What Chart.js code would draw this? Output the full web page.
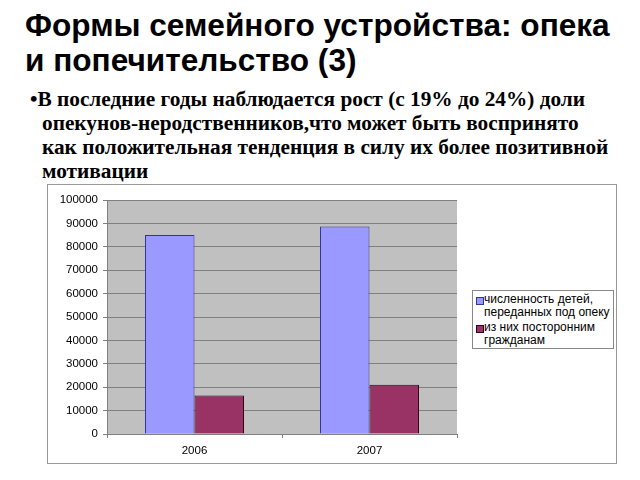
<!DOCTYPE html>
<html>
<head>
<meta charset="utf-8">
<script src="https://cdn.jsdelivr.net/npm/chart.js@4"></script>
<style>
  html, body { margin:0; padding:0; background:#fff; width:640px; height:480px; overflow:hidden; }
  .title { position:absolute; left:25px; font-family:"Liberation Sans", Arial, sans-serif; font-weight:bold; font-size:31.6px; color:#000; white-space:nowrap; line-height:1; }
  .bl { position:absolute; font-family:"Liberation Serif", "Times New Roman", serif; font-weight:bold; font-size:21.3px; color:#000; white-space:nowrap; line-height:1; }
  #box { position:absolute; left:47px; top:184px; width:568px; height:278px; border:1px solid #999; background:#fff; }
  #cw { position:absolute; left:0; top:0; width:568px; height:278px; }
  #legend { position:absolute; left:424px; top:105px; width:140px; height:57px; border:1px solid #888; background:#fff; font-family:"Liberation Sans", Arial, sans-serif; font-size:12px; color:#000; }
  .li { position:absolute; left:11px; line-height:13px; white-space:nowrap; }
  .sw { position:absolute; left:3px; width:6px; height:6px; }
</style>
</head>
<body>
<div class="title" style="top:10px">Формы семейного устройства: опека</div>
<div class="title" style="top:45px">и попечительство (3)</div>
<div class="bl" style="left:30px; top:89px">•В последние годы наблюдается рост (с 19% до 24%) доли</div>
<div class="bl" style="left:42px; top:113px">опекунов-неродственников,что может быть воспринято</div>
<div class="bl" style="left:42px; top:137px">как положительная тенденция в силу их более позитивной</div>
<div class="bl" style="left:42px; top:161px">мотивации</div>
<div id="box">
  <div id="cw"><canvas id="c" width="568" height="278"></canvas></div>
  <div id="legend"></div>
</div>
<script>
const categories = ["2006", "2007"];
const seriesNames = [["численность детей,", "переданных под опеку"], ["из них посторонним", "гражданам"]];
const childrenTotal = [85000, 88700];
const toStrangers = [16400, 21000];
const yTicks = [0, 10000, 20000, 30000, 40000, 50000, 60000, 70000, 80000, 90000, 100000];

const fills = ["#9999FF", "#993366"];
const borders = ["#333399", "#330022"];

const bgPlugin = {
  id: "plotBg",
  beforeDraw(chart) {
    const a = chart.chartArea, ctx = chart.ctx;
    ctx.save();
    ctx.fillStyle = "#C0C0C0";
    ctx.fillRect(a.left, a.top, a.right - a.left, a.bottom - a.top);
    ctx.restore();
  }
};

new Chart(document.getElementById("c"), {
  type: "bar",
  data: {
    labels: categories,
    datasets: [
      { label: seriesNames[0].join(" "), data: childrenTotal, backgroundColor: fills[0], borderColor: borders[0], borderWidth: 1, barPercentage: 1, categoryPercentage: 0.566 },
      { label: seriesNames[1].join(" "), data: toStrangers, backgroundColor: fills[1], borderColor: borders[1], borderWidth: 1, barPercentage: 1, categoryPercentage: 0.566 }
    ]
  },
  options: {
    responsive: false,
    animation: false,
    layout: { padding: { left: 0, right: 159, top: 15, bottom: 0 } },
    plugins: { legend: { display: false }, tooltip: { enabled: false } },
    scales: {
      x: {
        afterFit(s) { s.height = 29; },
        grid: { offset: true, drawOnChartArea: false, drawTicks: true, tickLength: 4, color: "#808080" },
        border: { display: true, color: "#808080" },
        ticks: { padding: 6, color: "#000", font: { family: "Liberation Sans", size: 11.5 } }
      },
      y: {
        min: 0, max: 100000,
        afterFit(s) { s.width = 59; },
        afterBuildTicks(s) { s.ticks = yTicks.map(v => ({ value: v })); },
        grid: { color: "#808080", lineWidth: 1, tickLength: 4 },
        border: { display: true, color: "#808080" },
        ticks: { padding: 5, color: "#000", font: { family: "Liberation Sans", size: 11.5 }, callback: v => String(v) }
      }
    }
  },
  plugins: [bgPlugin]
});

// HTML legend from series names
const lg = document.getElementById("legend");
const rowTops = [2, 30];
seriesNames.forEach((lines, i) => {
  const sw = document.createElement("div");
  sw.className = "sw";
  sw.style.top = (rowTops[i] + 4) + "px";
  sw.style.background = fills[i];
  sw.style.border = "1px solid " + borders[i];
  lg.appendChild(sw);
  lines.forEach((t, j) => {
    const d = document.createElement("div");
    d.className = "li";
    d.style.top = (rowTops[i] + j * 13) + "px";
    d.textContent = t;
    lg.appendChild(d);
  });
});
</script>
</body>
</html>
